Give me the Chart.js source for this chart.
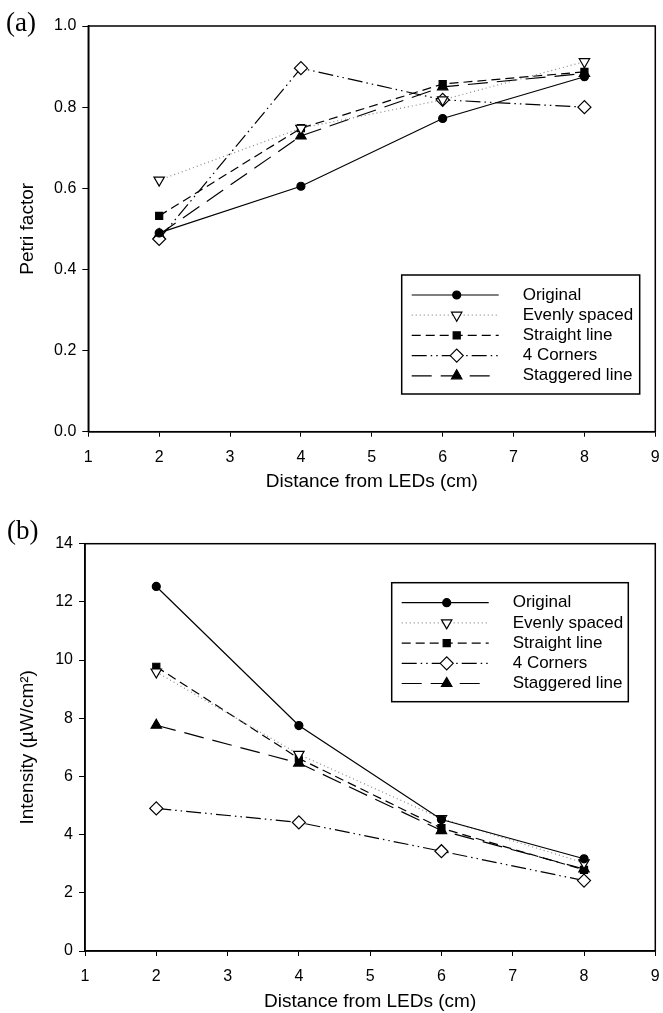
<!DOCTYPE html>
<html>
<head>
<meta charset="utf-8">
<title>Petri factor and intensity vs distance</title>
<script src="https://cdn.jsdelivr.net/npm/chart.js@4.4.1/dist/chart.umd.min.js"></script>
<style>
  body { margin: 0; background: #fff; }
  #wrap { position: relative; width: 663px; height: 1013px; overflow: hidden; }
  canvas { position: absolute; left: 0; }
  .panel {
    position: absolute;
    font-family: "Liberation Serif", "Times New Roman", serif;
    font-size: 27px;
    line-height: 27px;
    color: #000;
  }
</style>
</head>
<body>
<div id="wrap">
  <canvas id="chart-a" width="663" height="506" style="top:0"></canvas>
  <canvas id="chart-b" width="663" height="507" style="top:506px"></canvas>
  <div class="panel" style="left:6px; top:9px">(a)</div>
  <div class="panel" style="left:7px; top:517px">(b)</div>
</div>
<script>
// data
const distances = [2, 4, 6, 8];
const seriesNames = ['Original', 'Evenly spaced', 'Straight line', '4 Corners', 'Staggered line'];

// (a) Petri factor
const petriOriginal  = [0.490, 0.605, 0.772, 0.875];
const petriEvenly    = [0.620, 0.748, 0.818, 0.912];
const petriStraight  = [0.532, 0.748, 0.857, 0.887];
const petriCorners   = [0.475, 0.896, 0.818, 0.800];
const petriStaggered = [0.486, 0.729, 0.850, 0.883];

// (b) Intensity (uW/cm2)
const intOriginal  = [12.53, 7.75, 4.52, 3.17];
const intEvenly    = [9.59, 6.76, 4.55, 3.03];
const intStraight  = [9.77, 6.62, 4.22, 2.79];
const intCorners   = [4.90, 4.42, 3.43, 2.42];
const intStaggered = [7.76, 6.46, 4.14, 2.82];

const xTicks = [1, 2, 3, 4, 5, 6, 7, 8, 9];

const FONT = '"Liberation Sans", Arial, Helvetica, sans-serif';

// one line/marker style per series, same order as seriesNames
const seriesStyles = [
    { borderColor: '#000', borderDash: [], pointStyle: 'circle', pointRadius: 4, pointBackgroundColor: '#000' },
    { borderColor: '#888', borderDash: [1, 3], pointStyle: 'triangle', pointRotation: 180, pointRadius: 6, pointBackgroundColor: '#fff' },
    { borderColor: '#000', borderDash: [9, 5], pointStyle: 'rect', pointRadius: 5, pointBackgroundColor: '#000' },
    { borderColor: '#000', borderDash: [15, 4, 1.5, 4, 1.5, 4], pointStyle: 'rectRot', pointRadius: 6.5, pointBackgroundColor: '#fff' },
    { borderColor: '#000', borderDash: [20, 9], pointStyle: 'triangle', pointRadius: 6, pointBackgroundColor: '#000' }
];

function makeDatasets(seriesValues) {
    return seriesValues.map((values, i) => Object.assign({
        label: seriesNames[i],
        data: distances.map((d, j) => ({ x: d, y: values[j] })),
        borderWidth: 1.2,
        pointBorderColor: '#000',
        pointBorderWidth: 1.2,
        pointHoverRadius: 6,
        fill: false,
        tension: 0
    }, seriesStyles[i]));
}

// box around the whole plot area
const frame = {
    id: 'frame',
    beforeDatasetsDraw(chart) {
        const { ctx, chartArea: a } = chart;
        ctx.save();
        ctx.strokeStyle = '#000';
        ctx.lineWidth = 1.5;
        ctx.strokeRect(a.left, a.top, a.right - a.left, a.bottom - a.top);
        ctx.restore();
    }
};

// boxed legend drawn inside the plot, line sample with marker in the middle
const boxLegend = {
    id: 'boxLegend',
    afterDatasetsDraw(chart, args, opts) {
        const ctx = chart.ctx;
        const { left, top, width, height } = opts;
        ctx.save();
        ctx.fillStyle = '#fff';
        ctx.fillRect(left, top, width, height);
        ctx.strokeStyle = '#000';
        ctx.lineWidth = 1.5;
        ctx.strokeRect(left, top, width, height);

        chart.data.datasets.forEach((ds, i) => {
            const y = top + 20 + i * 20.2;
            ctx.setLineDash(ds.borderDash);
            ctx.strokeStyle = ds.borderColor;
            ctx.lineWidth = ds.borderWidth;
            ctx.beginPath();
            ctx.moveTo(left + 10, y);
            ctx.lineTo(left + 97, y);
            ctx.stroke();
            ctx.setLineDash([]);

            ctx.fillStyle = ds.pointBackgroundColor;
            ctx.strokeStyle = '#000';
            ctx.lineWidth = 1.2;
            Chart.helpers.drawPoint(ctx, {
                pointStyle: ds.pointStyle,
                rotation: ds.pointRotation || 0,
                radius: ds.pointRadius,
                borderWidth: 1.2
            }, left + 55, y);

            ctx.fillStyle = '#000';
            ctx.font = '17px ' + FONT;
            ctx.textBaseline = 'middle';
            ctx.textAlign = 'left';
            ctx.fillText(ds.label, left + 121, y);
        });
        ctx.restore();
    }
};

// fixed axis sizes, and no extra label overhang so the plot area lands where the layout padding says
function fixSize(prop, size) {
    return (scale) => {
        scale[prop] = size;
        scale.paddingLeft = 0;
        scale.paddingRight = 0;
        scale.paddingTop = 0;
        scale.paddingBottom = 0;
    };
}

function buildChart(canvasId, cfg) {
    const ctx = document.getElementById(canvasId).getContext('2d');
    return new Chart(ctx, {
        type: 'line',
        data: { datasets: makeDatasets(cfg.series) },
        plugins: [frame, boxLegend],
        options: {
            responsive: false,
            animation: false,
            devicePixelRatio: 1,
            layout: { padding: cfg.padding },
            plugins: {
                legend: { display: false },
                tooltip: { enabled: true },
                boxLegend: cfg.legendBox
            },
            scales: {
                x: {
                    type: 'linear',
                    min: 1,
                    max: 9,
                    afterBuildTicks: (scale) => { scale.ticks = xTicks.map(v => ({ value: v })); },
                    afterFit: fixSize('height', cfg.xAxisHeight),
                    grid: { drawOnChartArea: false, drawTicks: true, tickLength: 5, color: '#000', lineWidth: 1 },
                    border: { display: true, color: '#000', width: 1.5 },
                    ticks: { color: '#000', font: { family: FONT, size: 16 }, padding: 11, maxRotation: 0 },
                    title: {
                        display: true,
                        text: 'Distance from LEDs (cm)',
                        color: '#000',
                        font: { family: FONT, size: 19 },
                        padding: cfg.xTitlePadding
                    }
                },
                y: {
                    type: 'linear',
                    min: cfg.yMin,
                    max: cfg.yMax,
                    afterBuildTicks: (scale) => { scale.ticks = cfg.yTicks.map(v => ({ value: v })); },
                    afterFit: fixSize('width', cfg.yAxisWidth),
                    grid: { drawOnChartArea: false, drawTicks: true, tickLength: 6, color: '#000', lineWidth: 1 },
                    border: { display: true, color: '#000', width: 1.5 },
                    ticks: {
                        color: '#000',
                        font: { family: FONT, size: 16 },
                        padding: 6,
                        callback: cfg.yFormat
                    },
                    title: {
                        display: true,
                        text: cfg.yTitle,
                        color: '#000',
                        font: { family: FONT, size: 19 },
                        padding: { top: 16.5, bottom: 0 }
                    }
                }
            }
        }
    });
}

document.addEventListener('DOMContentLoaded', () => {
    buildChart('chart-a', {
        series: [petriOriginal, petriEvenly, petriStraight, petriCorners, petriStaggered],
        yMin: 0, yMax: 1,
        yTicks: [0, 0.2, 0.4, 0.6, 0.8, 1.0],
        yFormat: (v) => Number(v).toFixed(1),
        yTitle: 'Petri factor',
        padding: { top: 26, right: 4.7, left: 0, bottom: 0 },
        yAxisWidth: 88.3,
        xAxisHeight: 74.3,
        xTitlePadding: { top: 13, bottom: 13 },
        legendBox: { left: 401.7, top: 275, width: 238, height: 119 }
    });

    buildChart('chart-b', {
        series: [intOriginal, intEvenly, intStraight, intCorners, intStaggered],
        yMin: 0, yMax: 14,
        yTicks: [0, 2, 4, 6, 8, 10, 12, 14],
        yFormat: (v) => String(v),
        yTitle: 'Intensity (\u00b5W/cm\u00b2)',
        padding: { top: 37.7, right: 6, left: 0, bottom: 0 },
        yAxisWidth: 85,
        xAxisHeight: 62,
        xTitlePadding: { top: 0, bottom: 0 },
        legendBox: { left: 391.7, top: 76.7, width: 236.6, height: 119 }
    });
});
</script>
</body>
</html>
